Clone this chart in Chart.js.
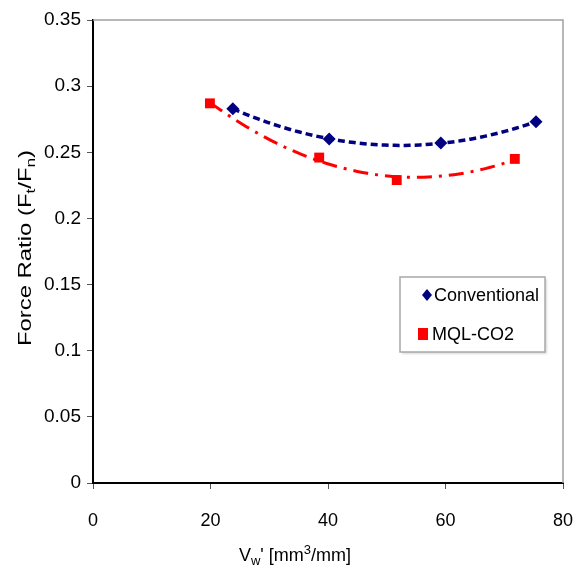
<!DOCTYPE html>
<html><head><meta charset="utf-8">
<script src="https://cdn.jsdelivr.net/npm/chart.js@4.4.1/dist/chart.umd.min.js"></script>
<style>html,body{margin:0;padding:0;background:#fff}</style>
</head><body>
<canvas id="c" width="580" height="567"></canvas>
<script>
// ---- data ----
const seriesNames = ['Conventional', 'MQL-CO2'];
const conventionalX = [23.8, 40.2, 59.2, 75.4];
const conventionalY = [0.283, 0.260, 0.257, 0.273];
const mqlX = [19.9, 38.5, 51.7, 71.8];
const mqlY = [0.287, 0.246, 0.229, 0.245];
const xTicks = [0, 20, 40, 60, 80];
const yTicks = [0, 0.05, 0.1, 0.15, 0.2, 0.25, 0.3, 0.35];

const FONT = 'Liberation Sans, Arial, sans-serif';

// quadratic (2nd order polynomial) least-squares trendline from the data
function quadFit(xs, ys) {
  let S = [0,0,0,0,0], T = [0,0,0];
  xs.forEach((x, i) => {
    for (let k = 0; k < 5; k++) S[k] += Math.pow(x, k);
    for (let k = 0; k < 3; k++) T[k] += ys[i] * Math.pow(x, k);
  });
  const A = [[S[0],S[1],S[2],T[0]],[S[1],S[2],S[3],T[1]],[S[2],S[3],S[4],T[2]]];
  for (let i = 0; i < 3; i++) {
    for (let j = i + 1; j < 3; j++) {
      const f = A[j][i] / A[i][i];
      for (let k = i; k < 4; k++) A[j][k] -= f * A[i][k];
    }
  }
  const c = [0,0,0];
  for (let i = 2; i >= 0; i--) {
    let s = A[i][3];
    for (let k = i + 1; k < 3; k++) s -= A[i][k] * c[k];
    c[i] = s / A[i][i];
  }
  return c;
}
function trend(xs, ys) {
  const c = quadFit(xs, ys);
  const x0 = Math.min(...xs), x1 = Math.max(...xs), n = 60, pts = [];
  for (let i = 0; i <= n; i++) {
    const x = x0 + (x1 - x0) * i / n;
    pts.push({x, y: c[0] + c[1]*x + c[2]*x*x});
  }
  return pts;
}
const toPts = (xs, ys) => xs.map((x, i) => ({x, y: ys[i]}));

const frame = {
  id: 'frame',
  beforeDatasetsDraw(chart) {
    const {ctx, chartArea: a} = chart;
    ctx.save();
    ctx.strokeStyle = '#a0a0a0';
    ctx.lineWidth = 1.5;
    ctx.beginPath();
    ctx.moveTo(a.left, a.top); ctx.lineTo(a.right, a.top); ctx.lineTo(a.right, a.bottom);
    ctx.stroke();
    ctx.restore();
  },
  afterDraw(chart) {
    const ctx = chart.ctx;
    ctx.save();
    ctx.fillStyle = '#000';
    ctx.textBaseline = 'alphabetic';
    // y title, rotated
    ctx.save();
    ctx.translate(31, 248);
    ctx.rotate(-Math.PI / 2);
    const parts = [['Force Ratio (F',0],['t',1],['/F',0],['n',1],[')',0]];
    const big = '18px ' + FONT, small = '13px ' + FONT;
    let w = 0;
    parts.forEach(p => { ctx.font = p[1] ? small : big; w += ctx.measureText(p[0]).width; });
    const sx = 196 / w;
    ctx.scale(sx, 1.05);
    let x = -w / 2;
    parts.forEach(p => {
      ctx.font = p[1] ? small : big;
      ctx.fillText(p[0], x, p[1] ? 4 : 0);
      x += ctx.measureText(p[0]).width;
    });
    ctx.restore();
    // x title
    const xp = [['V',0,0],['w',1,4],["' [mm",0,0],['3',1,-7],['/mm]',0,0]];
    ctx.font = big;
    let wx = 0;
    xp.forEach(p => { ctx.font = p[1] ? small : big; wx += ctx.measureText(p[0]).width; });
    let xx = 295 - wx / 2;
    xp.forEach(p => {
      ctx.font = p[1] ? small : big;
      ctx.fillText(p[0], xx, 561 + p[2]);
      xx += ctx.measureText(p[0]).width;
    });
    // legend
    ctx.fillStyle = '#fff';
    ctx.strokeStyle = '#a8a8a8';
    ctx.lineWidth = 1.5;
    ctx.shadowColor = 'rgba(0,0,0,0.15)';
    ctx.shadowOffsetX = 2; ctx.shadowOffsetY = 2; ctx.shadowBlur = 2;
    ctx.fillRect(400, 277, 145, 75);
    ctx.shadowColor = 'transparent';
    ctx.strokeRect(400, 277, 145, 75);
    // diamond
    ctx.fillStyle = '#000080';
    ctx.beginPath();
    ctx.moveTo(427, 289); ctx.lineTo(432, 295); ctx.lineTo(427, 301); ctx.lineTo(422, 295);
    ctx.closePath(); ctx.fill();
    ctx.fillStyle = '#ff0000';
    ctx.fillRect(418, 328, 10, 12);
    ctx.fillStyle = '#000';
    ctx.font = '18px ' + FONT;
    ctx.textBaseline = 'middle';
    ctx.fillText(seriesNames[0], 434, 296);
    ctx.fillText(seriesNames[1], 432, 335);
    ctx.restore();
  }
};

new Chart(document.getElementById('c'), {
  type: 'scatter',
  data: {
    datasets: [
      { label: seriesNames[0] + ' trend', data: trend(conventionalX, conventionalY), showLine: true,
        borderColor: '#000080', borderWidth: 3.5, borderDash: [7, 4], pointRadius: 0, order: 3 },
      { label: seriesNames[1] + ' trend', data: trend(mqlX, mqlY), showLine: true,
        borderColor: '#ff0000', borderWidth: 3, borderDash: [15, 7, 3, 7], pointRadius: 0, order: 4 },
      { label: seriesNames[0], data: toPts(conventionalX, conventionalY), pointStyle: 'rectRot',
        pointRadius: 6.5, backgroundColor: '#000080', borderColor: '#000080', borderWidth: 0, order: 1 },
      { label: seriesNames[1], data: toPts(mqlX, mqlY), pointStyle: 'rect',
        pointRadius: 7, backgroundColor: '#ff0000', borderColor: '#ff0000', borderWidth: 0, order: 2 }
    ]
  },
  options: {
    responsive: false,
    animation: false,
    layout: { padding: { top: 20, right: 17, left: 0, bottom: 0 } },
    plugins: { legend: { display: false }, tooltip: { enabled: false } },
    scales: {
      x: {
        type: 'linear', position: 'bottom', min: 0, max: 80,
        afterBuildTicks: s => { s.ticks = xTicks.map(v => ({value: v})); },
        afterFit: s => { s.height = 84; s.paddingLeft = 0; s.paddingRight = 0; },
        ticks: { color: '#000', font: { family: FONT, size: 18 }, padding: 21, maxRotation: 0 },
        grid: { drawOnChartArea: false, tickLength: 6, color: '#555', lineWidth: 1 },
        border: { color: '#000', width: 2 }
      },
      y: {
        type: 'linear', min: 0, max: 0.35,
        afterBuildTicks: s => { s.ticks = yTicks.map(v => ({value: v})); },
        afterFit: s => { s.width = 93; s.paddingTop = 0; s.paddingBottom = 0; },
        ticks: { color: '#000', font: { family: FONT, size: 19 }, padding: 6,
          callback: v => String(+v.toFixed(2)) },
        grid: { drawOnChartArea: false, tickLength: 6, color: '#555', lineWidth: 1 },
        border: { color: '#000', width: 2 }
      }
    }
  },
  plugins: [frame]
});
</script>
</body></html>
